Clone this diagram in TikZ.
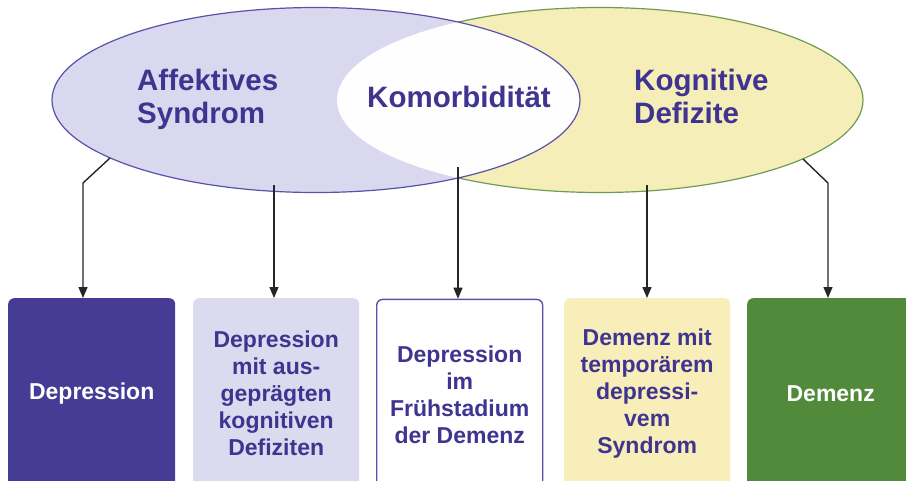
\documentclass[tikz,border=0pt]{standalone}
\usepackage{fontspec}
\setmainfont{Liberation Sans}
\usetikzlibrary{arrows.meta}
\definecolor{indigo}{HTML}{3F3591}
\definecolor{lavfill}{HTML}{D9D8EE}
\definecolor{lavline}{HTML}{5A51AA}
\definecolor{yelfill}{HTML}{F6EEB8}
\definecolor{greenline}{HTML}{6E9C55}
\definecolor{darkbox}{HTML}{463C96}
\definecolor{greenbox}{HTML}{528A3C}
\definecolor{lavbox}{HTML}{DCDAEE}
\definecolor{yelbox}{HTML}{F7EEBA}
\tikzset{
  bigtext/.style={font=\bfseries\fontsize{29.5}{33}\selectfont, text=indigo, align=left, inner sep=0pt},
  boxbase/.style={rounded corners=6pt, minimum height=190pt, inner sep=0pt, align=center,
     font=\bfseries\fontsize{23}{27}\selectfont},
  arr/.style={draw=black!85, line width=1.4pt, -{Triangle[length=11pt,width=9pt]}},
}
\begin{document}
\begin{tikzpicture}[x=1pt,y=-1pt]
\useasboundingbox[fill=white] (0,0) rectangle (906,480);
% ellipses
\fill[yelfill] (600,100) ellipse [x radius=263pt, y radius=92.5pt];
\draw[greenline, line width=1.2pt] (600,100) ellipse [x radius=263pt, y radius=92.5pt];
\fill[lavfill] (316,100) ellipse [x radius=264pt, y radius=92.5pt];
\begin{scope}
  \clip (316,100) ellipse [x radius=264pt, y radius=92.5pt];
  \fill[white!97!lavfill] (600,100) ellipse [x radius=263pt, y radius=92.5pt];
\end{scope}
\draw[lavline, line width=1.2pt] (316,100) ellipse [x radius=264pt, y radius=92.5pt];
% ellipse texts
\node[bigtext, anchor=north west] (aff) at (137,69) {Affektives\\Syndrom};
\node[bigtext, anchor=center] (kom) at (459,97) {Komorbidität};
\node[bigtext, anchor=north west] (kog) at (634,69) {Kognitive\\Defizite};
% boxes
\node[boxbase, fill=darkbox, text=white, minimum width=167pt, anchor=north west] (b1) at (8,298) {Depression};
\node[boxbase, fill=lavbox, text=indigo, minimum width=166pt, anchor=north west] (b2) at (193,298) {Depression\\mit aus-\\geprägten\\kognitiven\\Defiziten};
\node[boxbase, fill=white, draw=lavline, line width=1.4pt, text=indigo, minimum width=166pt, anchor=north west] (b3) at (376,298.7) {Depression\\im\\Frühstadium\\der Demenz};
\node[boxbase, fill=yelbox, text=indigo, minimum width=166pt, anchor=north west] (b4) at (564,298) {Demenz mit\\temporärem\\depressi-\\vem\\Syndrom};
\node[boxbase, fill=greenbox, text=white, minimum width=167pt, anchor=north west] (b5) at (747,298) {Demenz};
% connector coordinates
\coordinate (s1) at (110,158);
\coordinate (k1) at (83,183);
\coordinate (s2) at (274,185);
\coordinate (s3) at (458,167);
\coordinate (s4) at (647,185);
\coordinate (s5) at (803,159);
\coordinate (k5) at (828,183);
% connectors
\draw[arr] (s1) -- (k1) -- (k1 |- b1.north);
\draw[arr] (s2) -- (s2 |- b2.north);
\draw[arr] (s3) -- (s3 |- b3.north);
\draw[arr] (s4) -- (s4 |- b4.north);
\draw[arr] (s5) -- (k5) -- (k5 |- b5.north);
\end{tikzpicture}
\end{document}
